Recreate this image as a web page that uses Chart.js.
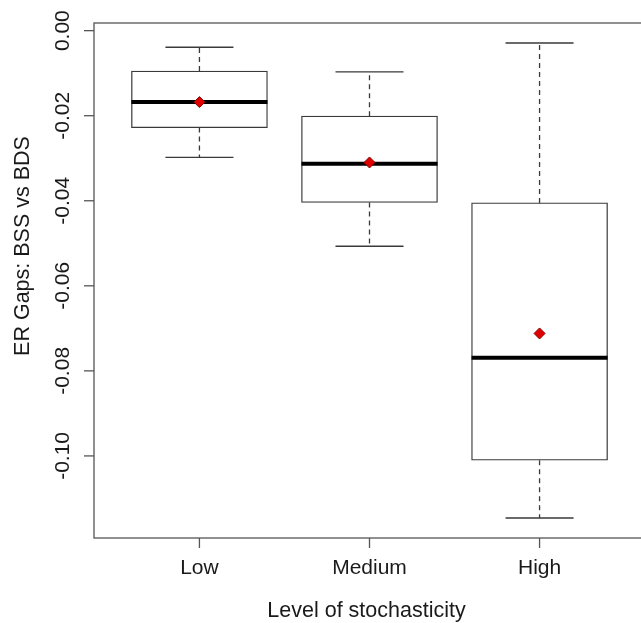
<!DOCTYPE html>
<html>
<head>
<meta charset="utf-8">
<script src="https://cdn.jsdelivr.net/npm/chart.js@4.4.0/dist/chart.umd.min.js"></script>
<style>
  html, body { margin: 0; padding: 0; overflow: hidden; background: #fff; }
  canvas { display: block; }
</style>
</head>
<body>
<canvas id="chart" width="660" height="623"></canvas>
<script>
// values
const categories = ['Low', 'Medium', 'High'];
const whiskerLow = [-0.0298, -0.0507, -0.1146];
const q1 = [-0.0228, -0.0404, -0.1010];
const median = [-0.0168, -0.0313, -0.0769];
const q3 = [-0.0095, -0.0201, -0.0405];
const whiskerHigh = [-0.0039, -0.0097, -0.0029];
const means = [-0.0168, -0.0310, -0.0712];
const yTicks = [0, -0.02, -0.04, -0.06, -0.08, -0.10];
const xTitle = 'Level of stochasticity';
const yTitle = 'ER Gaps: BSS vs BDS';

const TICK_FONT = '21px "Liberation Sans", Arial, sans-serif';
const TITLE_FONT = '21.5px "Liberation Sans", Arial, sans-serif';
const TEXT = '#1a1a1a';
const LINE = '#3a3a3a';

// build line segments with null breaks between them
const gap = x => ({ x: x, y: null });
const whiskerPts = [], capPts = [], medianPts = [];
categories.forEach((c, i) => {
  const x = i + 1;
  whiskerPts.push({ x, y: q3[i] }, { x, y: whiskerHigh[i] }, gap(x));
  whiskerPts.push({ x, y: q1[i] }, { x, y: whiskerLow[i] }, gap(x));
  capPts.push({ x: x - 0.2, y: whiskerHigh[i] }, { x: x + 0.2, y: whiskerHigh[i] }, gap(x));
  capPts.push({ x: x - 0.2, y: whiskerLow[i] }, { x: x + 0.2, y: whiskerLow[i] }, gap(x));
  medianPts.push({ x: x - 0.4, y: median[i] }, { x: x + 0.4, y: median[i] }, gap(x));
});

// axes, frame and labels in R style
const axesPlugin = {
  id: 'rAxes',
  afterDraw(chart) {
    const { ctx, chartArea: a, scales: { x, y } } = chart;
    ctx.save();
    ctx.strokeStyle = '#555';
    ctx.lineWidth = 1.3;
    ctx.strokeRect(a.left, a.top, a.right - a.left, a.bottom - a.top);

    ctx.fillStyle = TEXT;
    ctx.textAlign = 'center';
    ctx.textBaseline = 'middle';

    ctx.font = TICK_FONT;
    yTicks.forEach(v => {
      const py = y.getPixelForValue(v);
      ctx.beginPath();
      ctx.moveTo(a.left - 10, py);
      ctx.lineTo(a.left, py);
      ctx.stroke();
      ctx.save();
      ctx.translate(a.left - 31, py);
      ctx.rotate(-Math.PI / 2);
      ctx.fillText(v.toFixed(2), 0, 0);
      ctx.restore();
    });

    categories.forEach((c, i) => {
      const px = x.getPixelForValue(i + 1);
      ctx.beginPath();
      ctx.moveTo(px, a.bottom);
      ctx.lineTo(px, a.bottom + 10);
      ctx.stroke();
      ctx.fillText(c, px, a.bottom + 30);
    });

    ctx.font = TITLE_FONT;
    ctx.fillText(xTitle, (a.left + a.right) / 2 - 3, a.bottom + 73);
    ctx.save();
    ctx.translate(23, 246);
    ctx.rotate(-Math.PI / 2);
    ctx.fillText(yTitle, 0, 0);
    ctx.restore();
    ctx.restore();
  }
};

new Chart(document.getElementById('chart'), {
  type: 'bar',
  data: {
    datasets: [
      {
        type: 'scatter',
        data: categories.map((c, i) => ({ x: i + 1, y: means[i] })),
        pointStyle: 'rectRot',
        pointRadius: 5.5,
        backgroundColor: '#e00000',
        borderColor: '#8a0000',
        borderWidth: 1,
        order: 0
      },
      {
        type: 'line',
        data: medianPts,
        borderColor: '#000',
        borderWidth: 4,
        pointRadius: 0,
        order: 1
      },
      {
        type: 'line',
        data: capPts,
        borderColor: LINE,
        borderWidth: 1.3,
        pointRadius: 0,
        order: 2
      },
      {
        type: 'line',
        data: whiskerPts,
        borderColor: LINE,
        borderWidth: 1.3,
        borderDash: [5, 4],
        pointRadius: 0,
        order: 3
      },
      {
        type: 'bar',
        data: categories.map((c, i) => ({ x: i + 1, y: [q1[i], q3[i]] })),
        backgroundColor: '#fff',
        borderColor: LINE,
        borderWidth: 1.3,
        borderSkipped: false,
        barThickness: 136,
        order: 4
      }
    ]
  },
  options: {
    responsive: false,
    animation: false,
    layout: { padding: { left: 94, top: 23, right: 15, bottom: 85 } },
    plugins: { legend: { display: false }, tooltip: { enabled: false } },
    scales: {
      x: { type: 'linear', min: 0.38, max: 3.62, offset: false, display: false },
      y: { min: -0.1193, max: 0.0018, display: false }
    }
  },
  plugins: [axesPlugin]
});
</script>
</body>
</html>
